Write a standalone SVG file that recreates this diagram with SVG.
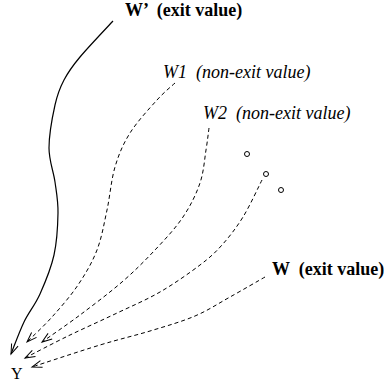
<svg xmlns="http://www.w3.org/2000/svg" width="384" height="385" viewBox="0 0 384 385">
<style>
.bold{font-family:"Liberation Serif","Times New Roman",serif;font-weight:bold;font-size:18px;fill:#000}
.ital{font-family:"Liberation Serif","Times New Roman",serif;font-style:italic;font-size:18px;fill:#000}
.reg{font-family:"Liberation Serif","Times New Roman",serif;font-size:16px;fill:#000}
.solid{fill:none;stroke:#000;stroke-width:1.2}
.dash{fill:none;stroke:#000;stroke-width:1;stroke-dasharray:4,3}
.dot{fill:#fff;stroke:#000;stroke-width:1}
</style>
<defs>
<marker id="arr" markerUnits="userSpaceOnUse" markerWidth="12" markerHeight="10" refX="10" refY="3.5" orient="auto" overflow="visible">
<path d="M0,0 L10,3.5 L0,7" fill="none" stroke="#000" stroke-width="1"/>
</marker>
</defs>
<g id="node-wprime"><text class="bold" x="125" y="16" xml:space="preserve">W’  (exit value)</text></g>
<g id="node-w1"><text class="ital" x="163" y="78" xml:space="preserve">W1  (non-exit value)</text></g>
<g id="node-w2"><text class="ital" x="203" y="119" xml:space="preserve">W2  (non-exit value)</text></g>
<g id="node-w"><text class="bold" x="272" y="275" xml:space="preserve">W  (exit value)</text></g>
<g id="node-y"><text class="reg" x="11" y="379">Y</text></g>
<g id="dots">
<circle class="dot" cx="247" cy="154" r="2.5"/>
<circle class="dot" cx="266" cy="174" r="2.5"/>
<circle class="dot" cx="281" cy="190" r="2.5"/>
</g>
<g id="connectors">
<path class="solid" marker-end="url(#arr)" d="M113,21 C107.5,27 88.2,47.2 80,57 C71.8,66.8 68.2,72 64,80 C59.8,88 57.5,93.7 55,105 C52.5,116.3 49,135.2 49,148 C49,160.8 53.5,171.2 55,182 C56.5,192.8 58.2,200.8 58,213 C57.8,225.2 57,241.5 54,255 C51,268.5 45,282.8 40,294 C35,305.2 28.8,312 24,322 C19.2,332 13.2,348.7 11,354"/>
<path class="dash" marker-end="url(#arr)" d="M175,83 C172,85.8 164.5,91.7 157,100 C149.5,108.3 137,121.8 130,133 C123,144.2 118.8,154.2 115,167 C111.2,179.8 110,196.2 107,210 C104,223.8 101.8,237.5 97,250 C92.2,262.5 85.5,273.8 78,285 C70.5,296.2 60.5,307.5 52,317 C43.5,326.5 31.2,337.8 27,342"/>
<path class="dash" marker-end="url(#arr)" d="M209,128 C208.5,131.7 207.5,140.8 206,150 C204.5,159.2 203.8,171.8 200,183 C196.2,194.2 190.5,205.8 183,217 C175.5,228.2 165.2,239.2 155,250 C144.8,260.8 134.5,271.2 122,282 C109.5,292.8 93.3,305 80,315 C66.7,325 48.3,337.5 42,342"/>
<path class="dash" marker-end="url(#arr)" d="M262,180 C258.8,186.2 249.7,206.2 243,217 C236.3,227.8 229.2,237 222,245 C214.8,253 210.3,257.2 200,265 C189.7,272.8 174.2,283.8 160,292 C145.8,300.2 130.3,306.7 115,314 C99.7,321.3 83,328.7 68,336 C53,343.3 32.2,354.3 25,358"/>
<path class="dash" marker-end="url(#arr)" d="M265,277 C259.2,280.3 241.7,290.5 230,297 C218.3,303.5 208.3,310.3 195,316 C181.7,321.7 165.8,326.2 150,331 C134.2,335.8 119.7,339 100,345 C80.3,351 43.3,363.3 32,367"/>
</g>
</svg>
